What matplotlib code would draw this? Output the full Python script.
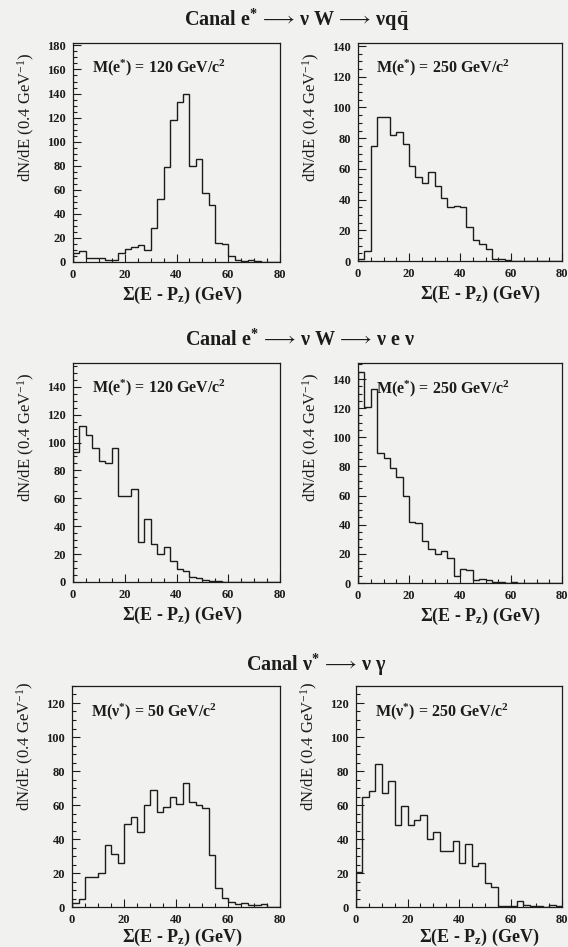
import numpy as np
import matplotlib
matplotlib.use("Agg")
import matplotlib.pyplot as plt
from matplotlib.ticker import MultipleLocator

plt.rcParams['font.family'] = ['Liberation Serif', 'DejaVu Serif']
plt.rcParams['mathtext.fontset'] = 'custom'
plt.rcParams['mathtext.rm'] = 'Liberation Serif'
plt.rcParams['mathtext.it'] = 'Liberation Serif:italic'
plt.rcParams['mathtext.bf'] = 'Liberation Serif:bold'

# bin edges of Sigma(E - Pz) in GeV
bin_edges = np.linspace(0, 80, 33)

# e* -> nu W -> nu q qbar
eqq_120 = [7.5, 9, 3, 3, 3, 2, 1.5, 7.5, 11, 12.5, 14.5, 10, 28, 52, 79, 118,
           133, 140, 80, 86, 57, 47, 16, 15, 5, 1.5, 1, 2, 0.5, 0, 0, 0]
eqq_250 = [1, 6.5, 75, 94, 94, 82, 84, 76, 62, 55, 51, 58, 49, 41, 35, 36,
           35.5, 22, 13.5, 11, 8, 1.5, 1.5, 0.5, 0, 0, 0, 0, 0, 0, 0, 0]
# e* -> nu W -> nu e nu
eev_120 = [93, 112, 105.5, 96, 87, 85, 96, 62, 62, 67, 29, 45, 27.5, 20, 25, 15,
           9, 8, 3.5, 3, 1.5, 1, 0.5, 0, 0, 0, 0, 0, 0, 0, 0, 0]
eev_250 = [145, 121, 133, 89, 86, 79, 73, 60, 41.6, 41, 28.6, 23, 20, 22, 17, 5,
           9.6, 9, 2, 3, 2, 1, 0.7, 0, 0.5, 0, 0, 0, 0, 0, 0, 0]
# nu* -> nu gamma
ng_50 = [2.5, 4.5, 17.7, 17.7, 20, 36.7, 31.4, 26, 49, 53, 44, 60, 69, 56, 59, 65,
         60.5, 72.7, 62, 60, 58, 30.5, 11, 5.5, 3, 2, 2.4, 1.4, 1, 2, 0, 0]
ng_250 = [20.5, 65, 68, 84, 67, 74, 48, 59.5, 48, 51, 54, 40, 44, 33, 33, 39,
          26, 37, 24, 26, 14, 12, 0.5, 0.3, 0.5, 3.5, 1.2, 0.5, 0.3, 0, 1.4, 0.5]

arrow = r"$\,\longrightarrow\,$"
titles = [r"Canal e$^{\mathbf{*}}$" + arrow + "ν W" + arrow + r"νq$\bar{\mathbf{q}}$",
          r"Canal e$^{\mathbf{*}}$" + arrow + "ν W" + arrow + "ν e ν",
          r"Canal ν$^{\mathbf{*}}$" + arrow + "ν γ"]
labels = [r"M(e$^{\mathbf{*}}$) = 120 GeV/c$^{\mathbf{2}}$",
          r"M(e$^{\mathbf{*}}$) = 250 GeV/c$^{\mathbf{2}}$",
          r"M(e$^{\mathbf{*}}$) = 120 GeV/c$^{\mathbf{2}}$",
          r"M(e$^{\mathbf{*}}$) = 250 GeV/c$^{\mathbf{2}}$",
          r"M(ν$^{\mathbf{*}}$) = 50 GeV/c$^{\mathbf{2}}$",
          r"M(ν$^{\mathbf{*}}$) = 250 GeV/c$^{\mathbf{2}}$"]
series = [eqq_120, eqq_250, eev_120, eev_250, ng_50, ng_250]
ymax = [182, 142, 157, 151, 130, 130]

W, H = 568, 947
bg = '#f1f1ef'
ink = '#1c1c1c'
fig = plt.figure(figsize=(W / 100, H / 100), dpi=100, facecolor=bg)

# pixel boxes (left, right, top, bottom)
boxes = [(73, 280, 43, 262), (358, 562, 43, 261),
         (73, 280, 363, 582), (358, 562, 363, 583),
         (72, 280, 686, 907), (356, 562, 686, 907)]

for i, (l, r, t, b) in enumerate(boxes):
    ax = fig.add_axes([l / W, 1 - b / H, (r - l) / W, (b - t) / H], facecolor=bg)
    ax.stairs(series[i], bin_edges, color=ink, linewidth=1.0)
    ax.set_xlim(0, 80)
    ax.set_ylim(0, ymax[i])
    ax.xaxis.set_major_locator(MultipleLocator(20))
    ax.xaxis.set_minor_locator(MultipleLocator(5))
    ax.yaxis.set_major_locator(MultipleLocator(20))
    ax.yaxis.set_minor_locator(MultipleLocator(5))
    ax.tick_params(which='both', direction='in', top=False, right=False,
                   colors=ink, width=0.8)
    ax.tick_params(which='major', length=6, labelsize=9, pad=5)
    ax.tick_params(which='minor', length=3)
    for lab in ax.get_xticklabels() + ax.get_yticklabels():
        lab.set_fontweight('bold')
    for s in ax.spines.values():
        s.set_color(ink)
        s.set_linewidth(0.9)
    ax.text(0.09, 0.885, labels[i], transform=ax.transAxes, fontsize=11.5,
            fontweight='bold', color=ink, va='center', ha='left')
    ax.set_xlabel(r"Σ(E - P$_{\mathbf{z}}$) (GeV)", fontsize=13,
                  fontweight='bold', color=ink)
    ax.xaxis.set_label_coords(0.6 if i % 2 == 1 else 0.53,
                              -0.105 if i < 4 else -0.088)
    ax.set_ylabel(r"dN/dE (0.4 GeV$^{-1}$)", fontsize=12, color=ink,
                  loc='top')
    ax.yaxis.set_label_coords(-0.172 if i % 2 == 0 else -0.176,
                              0.955 if i < 4 else 1.02)

title_pos = [(297, 20), (300, 340), (316, 665)]
for tt, (x, y) in zip(titles, title_pos):
    fig.text(x / W, 1 - y / H, tt, fontsize=14.5, fontweight='bold',
             ha='center', va='center', color=ink)

fig.savefig("out.png", dpi=100, facecolor=bg)
